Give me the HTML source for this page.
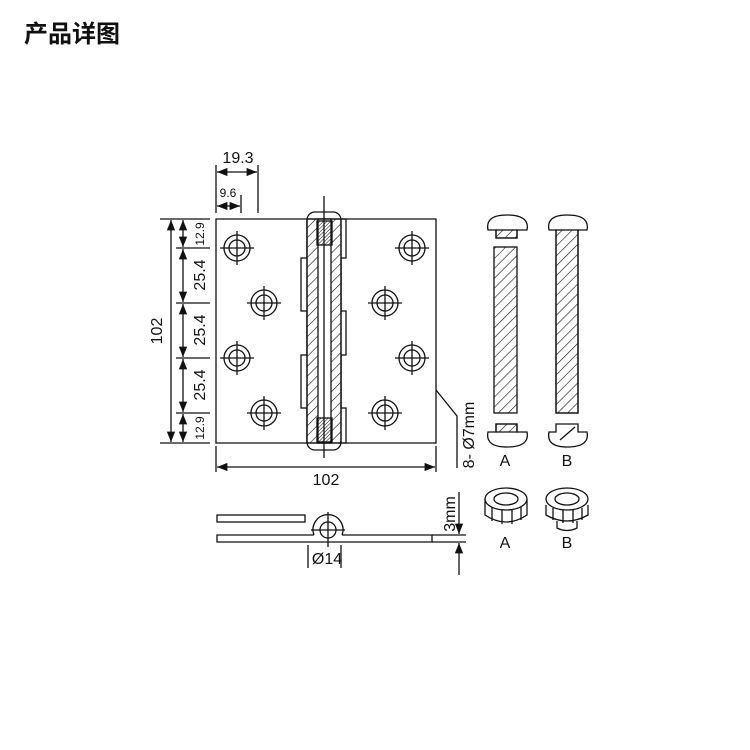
<!DOCTYPE html>
<html><head><meta charset="utf-8"><style>
body{margin:0;background:#fff;width:750px;height:750px;overflow:hidden;}
.t{position:absolute;left:24px;top:14px;font:bold 24px "Liberation Sans","Noto Sans CJK SC",sans-serif;color:#111;}
</style></head><body>
<div class="t">产品详图</div>
<svg width="750" height="750" style="position:absolute;left:0;top:0" font-family="Liberation Sans, sans-serif" fill="none" stroke="#111" stroke-width="1.3">
<defs>
<pattern id="h" width="7" height="7" patternUnits="userSpaceOnUse" patternTransform="rotate(45)"><line x1="0" y1="0" x2="0" y2="7" stroke="#111" stroke-width="1.2"/></pattern>
<pattern id="h2" width="2.5" height="2.5" patternUnits="userSpaceOnUse" patternTransform="rotate(45)"><line x1="0" y1="0" x2="0" y2="2.5" stroke="#111" stroke-width="1"/></pattern>
<marker id="a" viewBox="0 0 10 10" refX="10" refY="5" markerWidth="8" markerHeight="8" orient="auto-start-reverse"><path d="M0,1L10,5L0,9z" fill="#111" stroke="none"/></marker>
<g id="hole"><circle r="13"/><circle r="8"/><line x1="-17" y1="0" x2="17" y2="0"/><line x1="0" y1="-17" x2="0" y2="17"/></g>
</defs>
<path d="M307,219H216V443H307"/>
<path d="M341,219H436V443H341"/>
<rect x="301" y="258" width="40" height="53"/>
<rect x="301" y="355" width="40" height="53"/>
<rect x="307" y="219" width="39" height="39"/>
<rect x="307" y="311" width="39" height="44"/>
<rect x="307" y="408" width="39" height="35"/>
<rect x="307" y="212" width="34" height="238" rx="8" fill="#fff"/>
<rect x="307" y="219" width="34" height="224" fill="url(#h)"/>
<rect x="318" y="219" width="13" height="224" fill="#fff"/>
<rect x="317" y="221" width="15" height="24" fill="url(#h2)"/>
<rect x="317" y="418" width="15" height="24" fill="url(#h2)"/>
<line x1="307" y1="219" x2="341" y2="219"/><line x1="307" y1="443" x2="341" y2="443"/>
<line x1="324" y1="196" x2="324" y2="458"/>
<use href="#hole" x="237" y="248"/><use href="#hole" x="264" y="303"/><use href="#hole" x="237" y="358"/><use href="#hole" x="264" y="413"/>
<use href="#hole" x="412" y="248"/><use href="#hole" x="385" y="303"/><use href="#hole" x="412" y="358"/><use href="#hole" x="385" y="413"/>
<line x1="160" y1="219" x2="210" y2="219"/><line x1="160" y1="443" x2="210" y2="443"/>
<line x1="176" y1="248" x2="210" y2="248"/><line x1="176" y1="303" x2="210" y2="303"/><line x1="176" y1="358" x2="210" y2="358"/><line x1="176" y1="413" x2="210" y2="413"/>
<line x1="171" y1="220" x2="171" y2="442" marker-start="url(#a)" marker-end="url(#a)"/>
<line x1="183" y1="220" x2="183" y2="247" marker-start="url(#a)" marker-end="url(#a)"/>
<line x1="183" y1="249" x2="183" y2="302" marker-start="url(#a)" marker-end="url(#a)"/>
<line x1="183" y1="304" x2="183" y2="357" marker-start="url(#a)" marker-end="url(#a)"/>
<line x1="183" y1="359" x2="183" y2="412" marker-start="url(#a)" marker-end="url(#a)"/>
<line x1="183" y1="414" x2="183" y2="442" marker-start="url(#a)" marker-end="url(#a)"/>
<g fill="#111" stroke="none" font-size="16">
<text transform="translate(162,331) rotate(-90)" text-anchor="middle">102</text>
<text transform="translate(205,275) rotate(-90)" text-anchor="middle">25.4</text>
<text transform="translate(205,330) rotate(-90)" text-anchor="middle">25.4</text>
<text transform="translate(205,385) rotate(-90)" text-anchor="middle">25.4</text>
<text transform="translate(204,234) rotate(-90)" text-anchor="middle" font-size="12">12.9</text>
<text transform="translate(204,428) rotate(-90)" text-anchor="middle" font-size="12">12.9</text>
<text x="238" y="163" text-anchor="middle">19.3</text>
<text x="228" y="197" text-anchor="middle" font-size="12">9.6</text>
<text x="326" y="485" text-anchor="middle">102</text>
<text transform="translate(474,435) rotate(-90)" text-anchor="middle">8- Ø7mm</text>
<text x="505" y="466" text-anchor="middle">A</text><text x="567" y="466" text-anchor="middle">B</text>
<text x="505" y="548" text-anchor="middle">A</text><text x="567" y="548" text-anchor="middle">B</text>
<text x="327" y="564" text-anchor="middle">Ø14</text>
<text transform="translate(455,514) rotate(-90)" text-anchor="middle">3mm</text>
</g>
<line x1="216" y1="165" x2="216" y2="213"/><line x1="258" y1="165" x2="258" y2="213"/><line x1="241" y1="195" x2="241" y2="213"/>
<line x1="217" y1="172" x2="257" y2="172" marker-start="url(#a)" marker-end="url(#a)"/>
<line x1="217" y1="206" x2="240" y2="206" marker-start="url(#a)" marker-end="url(#a)"/>
<line x1="216" y1="446" x2="216" y2="472"/><line x1="436" y1="446" x2="436" y2="472"/>
<line x1="217" y1="467" x2="435" y2="467" marker-start="url(#a)" marker-end="url(#a)"/>
<path d="M436,390L457,416V468"/>
<path d="M488,230Q485,215 507,215Q530,215 527,230H517V238H496V230Z" fill="#fff"/>
<rect x="496" y="230" width="21" height="8" fill="url(#h)"/>
<rect x="494" y="247" width="23" height="166" fill="url(#h)"/>
<path d="M496,424H517V432H527Q530,447 507,447Q485,447 488,432H496Z"/>
<path d="M496,424H517V432H496Z" fill="url(#h)"/>
<path d="M549,230Q546,215 567,215Q590,215 587,230H578V413H556V230Z"/>
<rect x="556" y="230" width="22" height="183" fill="url(#h)"/>
<path d="M556,424H578V432H587Q590,447 567,447Q546,447 549,432H556Z"/>
<line x1="560" y1="440" x2="575" y2="427"/>
<g>
<path d="M485,499V515Q506,529 527,515V499"/><ellipse cx="506" cy="499" rx="21" ry="11" fill="#fff"/><ellipse cx="506" cy="499" rx="12" ry="6"/>
<line x1="492" y1="507" x2="492" y2="521"/><line x1="502" y1="510" x2="502" y2="524"/><line x1="512" y1="510" x2="512" y2="524"/><line x1="521" y1="507" x2="521" y2="520"/>
<path d="M546,505V515Q567,527 588,515V505"/><ellipse cx="567" cy="499" rx="21" ry="11" fill="#fff"/><ellipse cx="567" cy="499" rx="12" ry="6"/>
<line x1="553" y1="508" x2="553" y2="520"/><line x1="563" y1="510" x2="563" y2="523"/><line x1="573" y1="510" x2="573" y2="523"/><line x1="582" y1="508" x2="582" y2="520"/>
<path d="M557,521V528Q567,533 577,528V521"/>
</g>
<rect x="217" y="515" width="88" height="7"/>
<path d="M314,535H217V542H432V535H342"/>
<path d="M314,535A15,15 0 1 1 342,535"/>
<circle cx="328" cy="530" r="8"/>
<line x1="328" y1="512" x2="328" y2="547"/><line x1="311" y1="530" x2="345" y2="530"/>
<line x1="308" y1="545" x2="308" y2="568"/><line x1="341" y1="545" x2="341" y2="568"/>
<line x1="432" y1="535" x2="466" y2="535"/><line x1="432" y1="542" x2="466" y2="542"/>
<line x1="459" y1="492" x2="459" y2="534" marker-end="url(#a)"/>
<line x1="459" y1="575" x2="459" y2="543" marker-end="url(#a)"/>
</svg>
</body></html>
